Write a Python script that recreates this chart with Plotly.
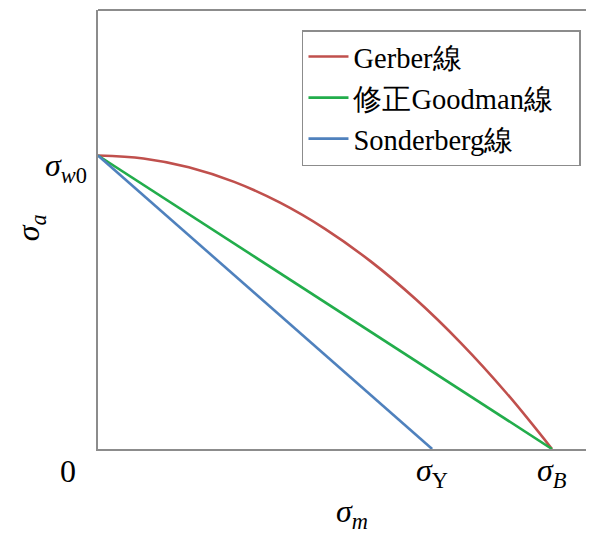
import plotly.graph_objects as go

# data (normalised: sigma_w0 = 1, sigma_B = 1)
sigma_w0 = 1.0
sigma_B = 1.0
sigma_Y = 0.736

gerber_m = [0.0, 0.1, 0.2, 0.3, 0.4, 0.5, 0.6, 0.7, 0.8, 0.9, 1.0]
gerber_a = [1.0, 0.99, 0.96, 0.91, 0.84, 0.75, 0.64, 0.51, 0.36, 0.19, 0.0]
goodman_m = [0.0, sigma_B]
goodman_a = [sigma_w0, 0.0]
soderberg_m = [0.0, sigma_Y]
soderberg_a = [sigma_w0, 0.0]

names = ["Gerber線", "修正Goodman線\u00a0\u00a0\u00a0", "Sonderberg線"]
colors = ["#C0504D", "#22AD4B", "#4F81BD"]

SERIF = "Liberation Serif"

fig = go.Figure()
for i, (xs, ys, nm, c) in enumerate(zip([gerber_m, goodman_m, soderberg_m],
                                        [gerber_a, goodman_a, soderberg_a], names, colors)):
    fig.add_trace(go.Scatter(x=xs, y=ys, mode="lines", name=nm, legendgroup=f"g{i}",
                             line=dict(color=c, width=2.6, shape="spline"),
                             hoverinfo="skip"))

axis_col = "#8c8c8c"
# page body has an 8px margin: figure is sized to fit inside the window
fig.update_layout(
    width=578, height=527,
    margin=dict(l=90, r=0, t=2, b=86),
    paper_bgcolor="white", plot_bgcolor="white",
    font=dict(family=SERIF, color="black", size=30),
    xaxis=dict(range=[0, 1.0749], showgrid=False, zeroline=False,
               showline=True, linecolor=axis_col, linewidth=2,
               showticklabels=False, ticks=""),
    yaxis=dict(range=[0, 1.4957], showgrid=False, zeroline=False,
               showline=True, linecolor=axis_col, linewidth=2,
               showticklabels=False, ticks=""),
    legend=dict(x=0.418, y=0.9544, xanchor="left", yanchor="top",
                bgcolor="white", bordercolor=axis_col, borderwidth=1.5,
                font=dict(family=SERIF, size=28.5, color="black"),
                tracegroupgap=1, itemwidth=40),
    showlegend=True,
)

# top border line (plot box extends past the right edge)
fig.add_shape(type="line", xref="paper", yref="paper", x0=0, x1=1, y0=1, y1=1,
              line=dict(color=axis_col, width=2))

lab_font = dict(family=SERIF, size=32, color="black")
fig.add_annotation(x=0, y=0, xref="x", yref="y", text="0", showarrow=False,
                   xanchor="center", yanchor="middle", xshift=-30, yshift=-22, font=lab_font)
fig.add_annotation(x=sigma_Y, y=0, xref="x", yref="y", text="<i>σ</i><sub>Y</sub>",
                   showarrow=False, xanchor="center", yanchor="middle", yshift=-23, font=lab_font)
fig.add_annotation(x=sigma_B, y=0, xref="x", yref="y", text="<i>σ<sub>B</sub></i>",
                   showarrow=False, xanchor="center", yanchor="middle", yshift=-23, font=lab_font)
fig.add_annotation(x=0, y=sigma_w0, xref="x", yref="y", text="<i>σ</i><sub><i>w</i>0</sub>",
                   showarrow=False, xanchor="right", yanchor="middle", xshift=-9, yshift=-12, font=lab_font)
# axis titles
fig.add_annotation(x=0, y=0.503, xref="paper", yref="paper", text="<i>σ<sub>a</sub></i>",
                   showarrow=False, textangle=-90, xanchor="center", yanchor="middle",
                   xshift=-68, borderpad=0, font=lab_font)
fig.add_annotation(x=0.52, y=0, xref="paper", yref="paper", text="<i>σ<sub>m</sub></i>",
                   showarrow=False, xanchor="center", yanchor="bottom", yshift=-86,
                   borderpad=0, font=lab_font)

fig.write_html("out.html")
